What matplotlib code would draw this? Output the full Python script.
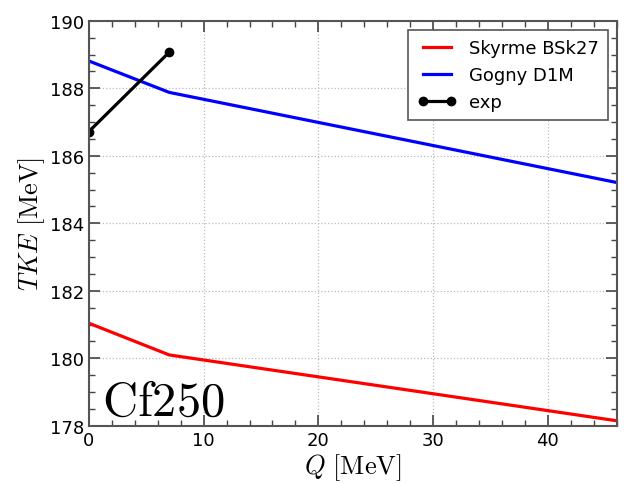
import matplotlib
matplotlib.use("Agg")
import matplotlib.pyplot as plt
from matplotlib.ticker import MultipleLocator

# Total kinetic energy vs. excitation energy Q for Cf250
q_model = [0, 7, 46]
tke_skyrme = [181.04, 180.10, 178.15]
tke_gogny = [188.81, 187.88, 185.21]

q_exp = [0, 7]
tke_exp = [186.72, 189.07]

plt.rcParams["mathtext.fontset"] = "cm"
plt.rcParams["font.family"] = "DejaVu Sans"

fig = plt.figure(figsize=(6.26, 4.85), dpi=100)
ax = fig.add_axes([0.142, 0.120, 0.843, 0.835])

ax.plot(q_model, tke_skyrme, color="red", lw=2.3, label="Skyrme BSk27")
ax.plot(q_model, tke_gogny, color="blue", lw=2.3, label="Gogny D1M")
ax.plot(q_exp, tke_exp, color="black", lw=2.3, marker="o", ms=6, label="exp")

ax.set_xlim(0, 46)
ax.set_ylim(178, 190)
ax.xaxis.set_major_locator(MultipleLocator(10))
ax.xaxis.set_minor_locator(MultipleLocator(2))
ax.yaxis.set_major_locator(MultipleLocator(2))
ax.yaxis.set_minor_locator(MultipleLocator(0.5))

ax.tick_params(which="both", direction="in", top=True, right=True,
               labelsize=13, color="#444444")
ax.tick_params(which="major", length=8, width=1.2)
ax.tick_params(which="minor", length=4, width=1.0)
for s in ax.spines.values():
    s.set_color("#555555")
    s.set_linewidth(1.5)

ax.grid(True, which="major", linestyle=":", color="#bbbbbb", lw=0.9)

ax.set_xlabel(r"$Q\ [\mathrm{MeV}]$", fontsize=19, labelpad=2)
ax.set_ylabel(r"$TKE\ [\mathrm{MeV}]$", fontsize=19, labelpad=2)

ax.text(0.025, 0.028, r"$\mathrm{Cf250}$", transform=ax.transAxes,
        fontsize=35, va="baseline", ha="left")

leg = ax.legend(loc="upper right", fontsize=13, handlelength=2.15,
                handletextpad=0.7, borderaxespad=0.5, fancybox=False,
                framealpha=1.0, borderpad=0.5, labelspacing=0.5,
                numpoints=2)
leg.get_frame().set_edgecolor("#555555")
leg.get_frame().set_linewidth(1.2)

fig.savefig("out.png", dpi=100)
